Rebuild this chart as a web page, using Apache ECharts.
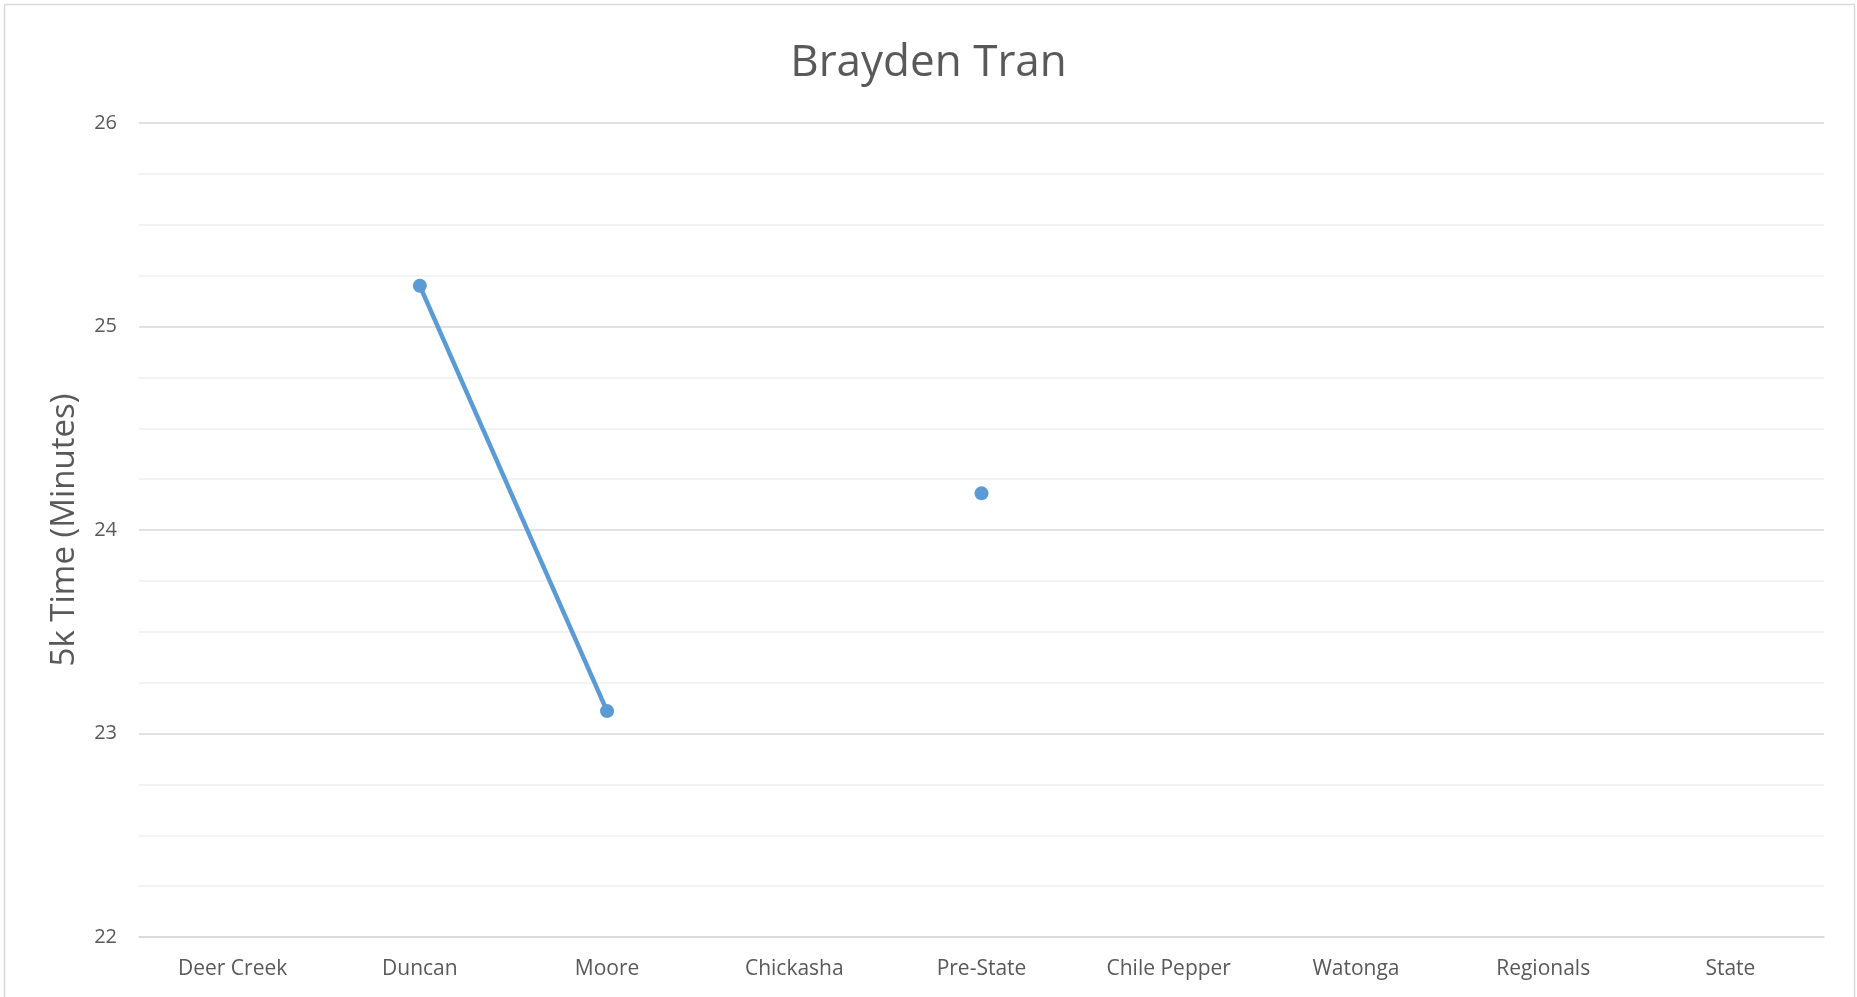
<!DOCTYPE html>
<html>
<head>
<meta charset="utf-8">
<title>Brayden Tran</title>
<script src="https://cdn.jsdelivr.net/npm/echarts@6/dist/echarts.min.js"></script>
<style>
    html, body { margin: 0; padding: 0; background: #fff; }
    #broken_line { width: 1857px; height: 997px; }
</style>
</head>
<body>
<div id="broken_line"></div>
<script>
// 比赛名
var meets = ['Deer Creek', 'Duncan', 'Moore', 'Chickasha', 'Pre-State', 'Chile Pepper', 'Watonga', 'Regionals', 'State'];
// 5k 成绩 (分钟), null = 没跑
var times = [null, 25.2, 23.11, null, 24.18, null, null, null, null];
var runnerName = 'Brayden Tran';
var yMin = 22;
var yMax = 26;

var textColor = '#595959';
var fontName = 'Open Sans';

var myChart = echarts.init(document.getElementById('broken_line'));

var option = {
    backgroundColor: '#fff',
    title: {
        text: runnerName,
        left: 'center',
        top: 36,
        textStyle: {
            color: textColor,
            fontFamily: fontName,
            fontSize: 44,
            fontWeight: 'normal'
        }
    },
    graphic: [{
        type: 'rect',
        shape: { x: 4.5, y: 4.5, width: 1850, height: 1010 },
        style: { fill: 'none', stroke: '#d9d9d9', lineWidth: 1.5 },
        silent: true
    }],
    grid: {
        left: 139,
        right: 33,
        top: 123,
        bottom: 60
    },
    xAxis: {
        type: 'category',
        data: meets,
        boundaryGap: true,
        axisLine: { lineStyle: { color: '#d9d9d9', width: 1.5 } },
        axisTick: { show: false },
        axisLabel: {
            color: textColor,
            fontFamily: fontName,
            fontSize: 21,
            margin: 22,
            interval: 0
        }
    },
    yAxis: {
        type: 'value',
        min: yMin,
        max: yMax,
        interval: 1,
        name: '5k Time (Minutes)',
        nameLocation: 'middle',
        nameGap: 58,
        nameTextStyle: {
            color: textColor,
            fontFamily: fontName,
            fontSize: 33
        },
        axisLine: { show: false },
        axisTick: { show: false },
        axisLabel: {
            color: textColor,
            fontFamily: fontName,
            fontSize: 20,
            margin: 22
        },
        splitLine: { lineStyle: { color: '#d9d9d9', width: 1.5 } },
        minorTick: { show: false, splitNumber: 4 },
        minorSplitLine: { show: true, lineStyle: { color: '#f0f0f0', width: 1.5 } }
    },
    series: [
        {
            name: runnerName,
            type: 'line',
            data: times,
            connectNulls: false,
            symbol: 'circle',
            symbolSize: 14,
            itemStyle: { color: '#5b9bd5' },
            lineStyle: { color: '#5b9bd5', width: 4.5 },
            animation: false
        }
    ]
};
myChart.setOption(option);
</script>
</body>
</html>
